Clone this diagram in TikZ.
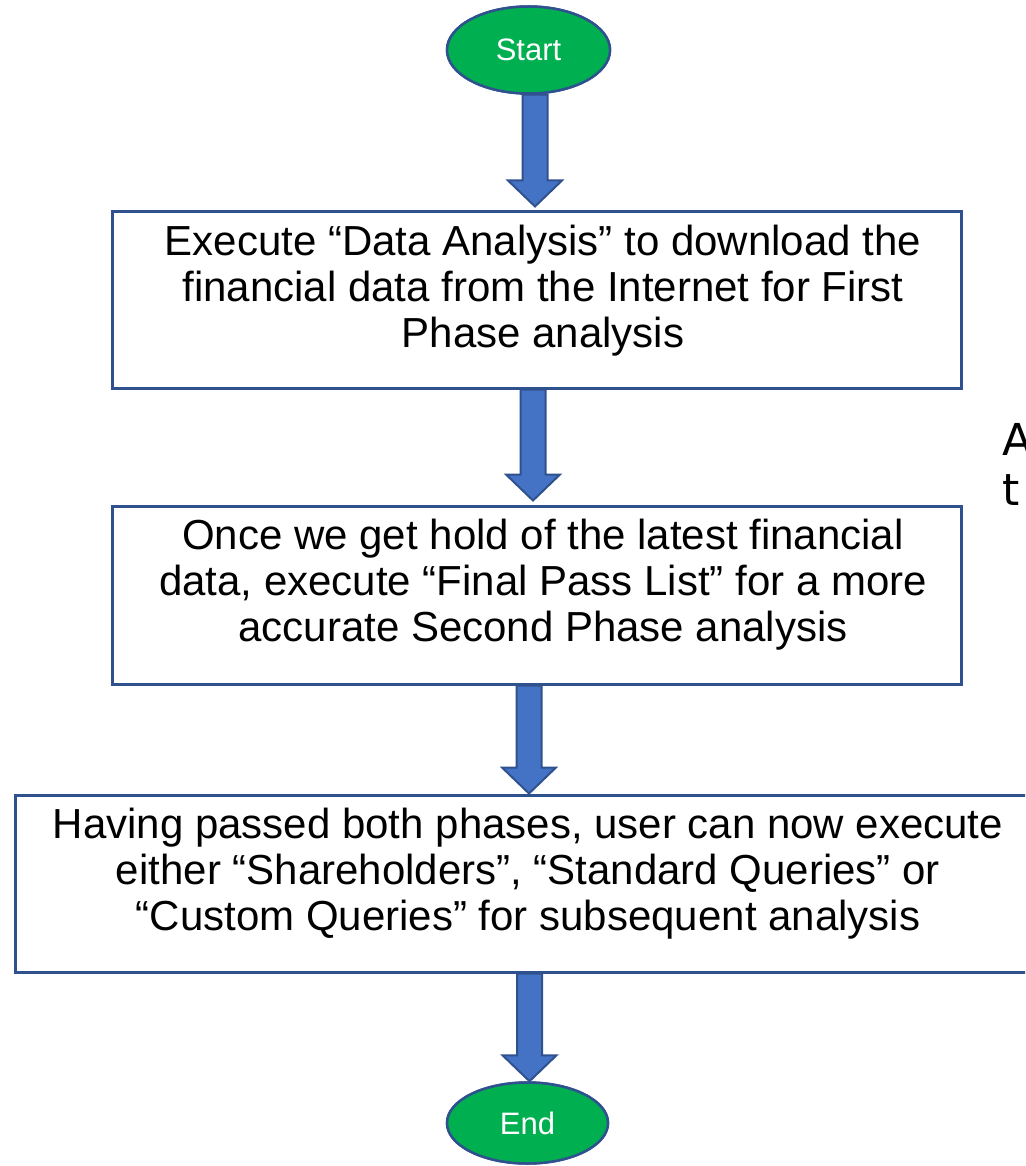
\documentclass[tikz,border=0pt]{standalone}
\usepackage{fontspec}
\setmainfont{Liberation Sans}
\newfontfamily\djv{DejaVu Sans}
\usetikzlibrary{calc,shapes.geometric}
\definecolor{gfill}{HTML}{00B050}
\definecolor{bline}{HTML}{2F528F}
\definecolor{afill}{HTML}{4472C4}
\newcommand\blockarr[4]{%
  \path[arrowbody] let \p1=(#2), \p2=(#3) in
    (#1pt-12.5pt,\y1) -- (#1pt-12.5pt,\y2+#4pt+26pt) -- (#1pt-27pt,\y2+#4pt+26pt)
    -- (#1pt,\y2+#4pt) -- (#1pt+27pt,\y2+#4pt+26pt) -- (#1pt+12.5pt,\y2+#4pt+26pt)
    -- (#1pt+12.5pt,\y1) -- cycle;}
\begin{document}
\begin{tikzpicture}[x=1pt,y=-1pt,
  term/.style={ellipse,draw=bline,line width=2.5pt,fill=gfill,inner sep=0pt,
    text=white,font=\fontsize{31}{36}\selectfont},
  procbox/.style={rectangle,draw=bline,line width=3pt,inner sep=0pt},
  boxtext/.style={align=center,inner sep=0pt,font=\fontsize{42}{46}\selectfont},
  arrowbody/.style={fill=afill,draw=bline,line width=2pt,line join=miter},
  sidetext/.style={anchor=base west,inner sep=0pt,font=\djv\fontsize{44}{50}\selectfont}]
\useasboundingbox (0,0) rectangle (1025,1166);
\clip (0,0) rectangle (1025,1166);
% boxes
\node[procbox,minimum width=849pt,minimum height=176pt] (b1) at (536.5,300) {};
\node[procbox,minimum width=849pt,minimum height=178pt] (b2) at (536.5,595) {};
\node[procbox,minimum width=1028pt,minimum height=177pt] (b3) at (529,883.5) {};
% terminals
\node[term,minimum width=163pt,minimum height=87pt] (s) at (528.5,50) {};
\node[term,minimum width=161pt,minimum height=81pt] (e) at (527.5,1123) {};
% arrows
\blockarr{535}{s.south}{b1.north}{4}
\blockarr{533}{b1.south}{b2.north}{4}
\blockarr{529}{b2.south}{b3.north}{0}
\blockarr{529.5}{b3.south}{e.north}{0}
% redraw terminals on top
\node[term,minimum width=163pt,minimum height=87pt] (s2) at (528.5,50) {Start};
\node[term,minimum width=161pt,minimum height=81pt] (e2) at (527.5,1123) {End};
% texts
\node[boxtext] (t1) at (543,291) {Execute “Data Analysis” to download the\\financial data from the Internet for First\\Phase analysis};
\node[boxtext] (t2) at (543,585) {Once we get hold of the latest financial\\data, execute “Final Pass List” for a more\\accurate Second Phase analysis};
\node[boxtext] (t3) at (528,874) {Having passed both phases, user can now execute\\either “Shareholders”, “Standard Queries” or\\“Custom Queries” for subsequent analysis};
% cut-off side text
\node[sidetext] (ra) at (1002,455) {A};
\node[sidetext] (rt) at (1002,505) {t};
\end{tikzpicture}
\end{document}
